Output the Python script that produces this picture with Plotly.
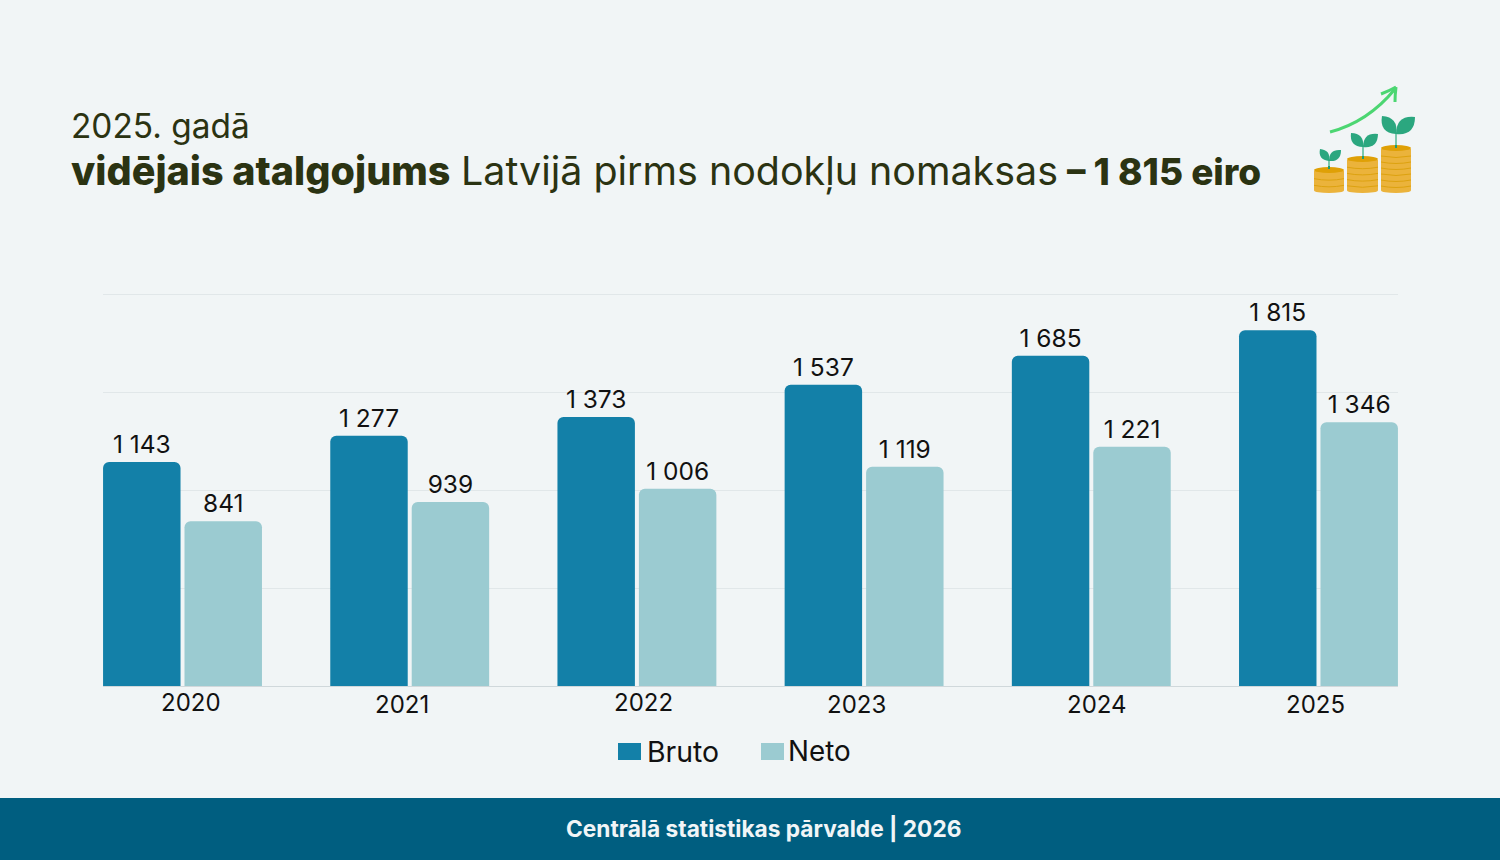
import plotly.graph_objects as go

# ---- data ----
years = ["2020", "2021", "2022", "2023", "2024", "2025"]
bruto = [1143, 1277, 1373, 1537, 1685, 1815]
neto = [841, 939, 1006, 1119, 1221, 1346]
bruto_labels = ["1 143", "1 277", "1 373", "1 537", "1 685", "1 815"]
neto_labels = ["841", "939", "1 006", "1 119", "1 221", "1 346"]
y_ticks = [0, 500, 1000, 1500, 2000]
series_names = ["Bruto", "Neto"]

# ---- style ----
W, H = 1500, 860
FONT = "Inter"
BG = "#F1F5F6"
C_BRUTO = "#1380A8"
C_NETO = "#9BCBD1"
INK = "#111111"
TITLE_INK = "#2B3312"
FOOT = "#005E80"
tick_px = [191, 402, 643, 856, 1097, 1315]
tick_py = [702, 704, 702, 704, 704, 704]


def X(px):
    return px / W


def Y(py):
    return 1 - py / H


def curve(p0, c, p1):
    return f"M{X(p0[0]):.5f},{Y(p0[1]):.5f} Q{X(c[0]):.5f},{Y(c[1]):.5f} {X(p1[0]):.5f},{Y(p1[1]):.5f}"


shapes = [dict(type="rect", xref="paper", yref="paper", x0=0, x1=1, y0=0, y1=Y(798),
               fillcolor=FOOT, line_width=0, layer="below")]


def paper_ellipse(x0, x1, y0, y1, color):
    shapes.append(dict(type="circle", xref="paper", yref="paper", x0=X(x0), x1=X(x1),
                       y0=Y(y1), y1=Y(y0), fillcolor=color, line_width=0))


def rect(x0, x1, y0, y1, color):
    shapes.append(dict(type="rect", xref="paper", yref="paper", x0=X(x0), x1=X(x1),
                       y0=Y(y1), y1=Y(y0), fillcolor=color, line_width=0))


def stroke(path, color, w):
    shapes.append(dict(type="path", xref="paper", yref="paper", path=path,
                       line=dict(color=color, width=w)))


def filled(path, color):
    shapes.append(dict(type="path", xref="paper", yref="paper", path=path,
                       fillcolor=color, line_width=0))


def leaf(base, tip, bulge):
    mx, my = (base[0] + tip[0]) / 2, (base[1] + tip[1]) / 2
    dx, dy = tip[0] - base[0], tip[1] - base[1]
    a = (mx - dy * bulge, my + dx * bulge)
    b = (mx + dy * bulge, my - dx * bulge)
    return (f"M{X(base[0]):.5f},{Y(base[1]):.5f} Q{X(a[0]):.5f},{Y(a[1]):.5f} {X(tip[0]):.5f},{Y(tip[1]):.5f} "
            f"Q{X(b[0]):.5f},{Y(b[1]):.5f} {X(base[0]):.5f},{Y(base[1]):.5f} Z")


# icon: three coin stacks with sprouts and a rising arrow
stacks = [(1314, 1344, 169, 192, 3), (1347, 1378, 158, 192, 5), (1381, 1411, 147, 192, 7)]
for x0, x1, top, bot, n in stacks:
    rect(x0, x1, top + 2, bot - 2, "#EBB33B")
    paper_ellipse(x0, x1, bot - 4, bot + 1, "#EBB33B")
    step = (bot - top - 3) / n
    for i in range(1, n):
        yy = top + 3 + step * i
        mid = ((x0 + x1) / 2, yy + 3)
        stroke(curve((x0, yy), mid, (x1, yy)), "#DDA20F", 1)
    paper_ellipse(x0, x1, top - 2, top + 4, "#DFA006")

sprouts = [(1329, 168, 159, 1320, 149, 1341, 150, 0.55),
           (1363, 158, 145, 1351, 133, 1378, 134, 0.55),
           (1396, 147, 132, 1382, 116, 1415, 117, 0.55)]
for sx, sy0, sy1, lx, ly, rx, ry, bulge in sprouts:
    stroke(curve((sx, sy0), (sx, (sy0 + sy1) / 2), (sx, sy1)), "#7CC8AE", 2)
    filled(leaf((sx, sy1 + 2), (lx, ly), bulge), "#2BA77F")
    filled(leaf((sx, sy1 + 2), (rx, ry), bulge), "#2BA77F")
    rect(sx - 1, sx + 1, sy0 - 2, sy0 + 1, "#1E9C74")

stroke(curve((1330, 132), (1368, 122), (1395, 89)), "#4CD672", 3)
stroke(curve((1381, 94), (1389, 91), (1396, 87)), "#4CD672", 3)
stroke(curve((1396, 87), (1395, 95), (1395, 102)), "#4CD672", 3)

# legend swatches
rect(618, 641, 743, 760, C_BRUTO)
rect(761, 784, 743, 760, C_NETO)

fig = go.Figure()
fig.add_bar(x=years, y=bruto, name=series_names[0], marker_color=C_BRUTO, marker_line_width=0,
            text=bruto_labels, textposition="outside", cliponaxis=False,
            textfont=dict(size=24.5, color=INK, family=FONT))
fig.add_bar(x=years, y=neto, name=series_names[1], marker_color=C_NETO, marker_line_width=0,
            text=neto_labels, textposition="outside", cliponaxis=False,
            textfont=dict(size=24.5, color=INK, family=FONT))


def label(px, py, text, size, color, weight=400, anchor="left"):
    return dict(xref="paper", yref="paper", x=X(px), y=Y(py), xanchor=anchor, yanchor="middle",
                showarrow=False, text=text, borderpad=0, borderwidth=0,
                font=dict(size=size, color=color, family=FONT, weight=weight))


annotations = [
    label(71, 126, "2025. gadā", 33.4, TITLE_INK),
    label(71, 171, "vidējais atalgojums", 39.5, TITLE_INK, 800),
    label(461, 171, "Latvijā pirms nodokļu nomaksas", 39.4, TITLE_INK),
    label(1067, 171, "– 1 815 eiro", 37, TITLE_INK, 800),
    label(763, 829, "Centrālā statistikas pārvalde | 2026", 22.7, "#F1F5F7", 700, "center"),
    label(647, 751, series_names[0], 28.4, INK),
    label(788, 751, series_names[1], 27.8, INK),
]
for yr, px, py in zip(years, tick_px, tick_py):
    annotations.append(label(px, py, yr, 24, INK, 400, "center"))

fig.update_layout(
    width=W, height=H, margin=dict(l=0, r=0, t=0, b=0, autoexpand=False),
    paper_bgcolor=BG, plot_bgcolor=BG,
    font=dict(family=FONT, color=INK), showlegend=False,
    barmode="group", bargap=0.283, bargroupgap=0.049, barcornerradius=6,
    xaxis=dict(domain=[X(103), X(1398)], range=[-0.35, 5.35], type="category",
               showticklabels=False, ticks="", showgrid=False, showline=True,
               linecolor="#D0D8DB", linewidth=1),
    yaxis=dict(domain=[Y(686), Y(292.04)], range=[0, 2010], tickvals=y_ticks, showticklabels=False,
               ticks="", showgrid=True, gridcolor="#E1E7E9", gridwidth=1, zeroline=False),
    shapes=shapes, annotations=annotations,
)

fig.write_html("out.html", config={"displayModeBar": False},
               post_script="document.body.style.margin='0';document.body.style.overflow='hidden';")
